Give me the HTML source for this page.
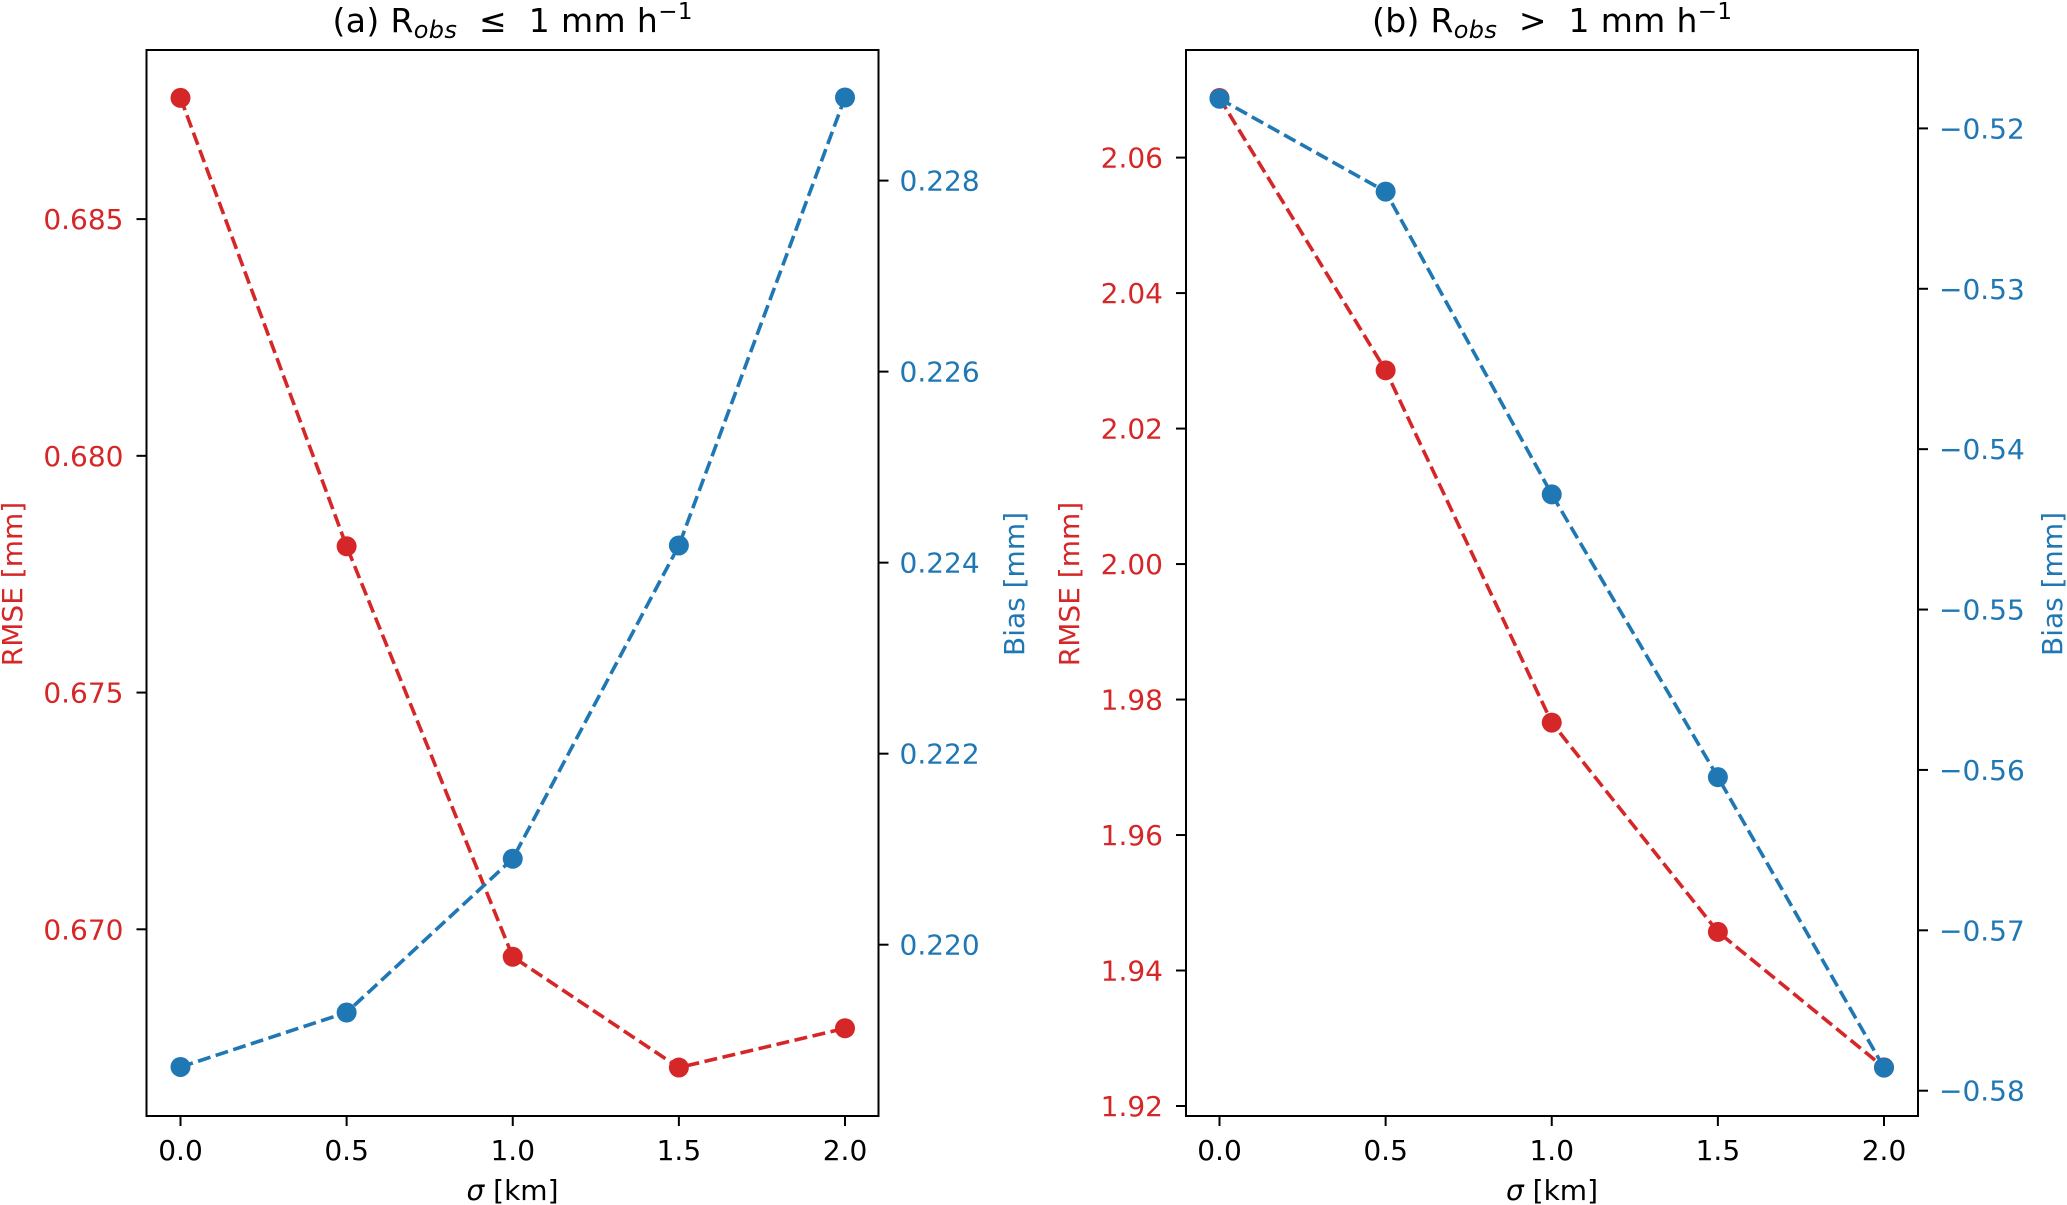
<!DOCTYPE html>
<html><head><meta charset="utf-8"><style>
html,body{margin:0;padding:0;background:#fff;}
svg{display:block;font-family:"DejaVu Sans","Liberation Sans",sans-serif;}
</style></head>
<body>
<svg id="chart" width="2067" height="1205" viewBox="0 0 2067 1205" xmlns="http://www.w3.org/2000/svg">
<rect x="0" y="0" width="2067" height="1205" fill="#fff"/>
<g id="root"></g>
</svg>
<script>
const xCategories = [0.0, 0.5, 1.0, 1.5, 2.0];
const xTickLabels = ["0.0", "0.5", "1.0", "1.5", "2.0"];
const rmseA = [0.68756, 0.67809, 0.66942, 0.66708, 0.66791];
const biasA = [0.21872, 0.21929, 0.22090, 0.22418, 0.22887];
const rmseB = [2.0688, 2.0286, 1.9766, 1.9457, 1.9257];
const biasB = [-0.51815, -0.52394, -0.54282, -0.56045, -0.57856];
const rmseATicks = [0.670, 0.675, 0.680, 0.685];
const rmseATickLabels = ["0.670", "0.675", "0.680", "0.685"];
const biasATicks = [0.220, 0.222, 0.224, 0.226, 0.228];
const biasATickLabels = ["0.220", "0.222", "0.224", "0.226", "0.228"];
const rmseBTicks = [1.92, 1.94, 1.96, 1.98, 2.00, 2.02, 2.04, 2.06];
const rmseBTickLabels = ["1.92", "1.94", "1.96", "1.98", "2.00", "2.02", "2.04", "2.06"];
const biasBTicks = [-0.58, -0.57, -0.56, -0.55, -0.54, -0.53, -0.52];
const biasBTickLabels = ["\u22120.58", "\u22120.57", "\u22120.56", "\u22120.55", "\u22120.54", "\u22120.53", "\u22120.52"];

const NS = "http://www.w3.org/2000/svg";
const root = document.getElementById("root");
const RED = "#d62728", BLUE = "#1f77b4";
function mk(tag, attrs, parent) {
  const e = document.createElementNS(NS, tag);
  for (const k in attrs) e.setAttribute(k, attrs[k]);
  (parent || root).appendChild(e);
  return e;
}
function lin(v0, p0, v1, p1) { return v => p0 + (v - v0) * (p1 - p0) / (v1 - v0); }

const TOP = 50, BOT = 1116;

function panel(cfg) {
  const g = mk("g", {});
  
  
  const X = lin(0, cfg.x0, 2, cfg.x2);
  const YL = lin(cfg.l0v, cfg.l0p, cfg.l1v, cfg.l1p);
  const YR = lin(cfg.r0v, cfg.r0p, cfg.r1v, cfg.r1p);
  function series(vals, Y, color, nm) {
    const pts = xCategories.map((c, i) => X(c).toFixed(1) + "," + Y(vals[i]).toFixed(1)).join(" ");
    const pl = mk("polyline", {points: pts, fill: "none", stroke: color, "stroke-width": 3.6, "stroke-dasharray": "13,5.5"}, g);
    
    
    xCategories.forEach((c, i) => {
      const ci = mk("circle", {cx: X(c), cy: Y(vals[i]), r: 10, fill: color}, g);
      
      
    });
  }
  series(cfg.rmse, YL, RED, 'rmse');
  series(cfg.bias, YR, BLUE, 'bias');
  const fr = mk("rect", {x: cfg.left, y: TOP, width: cfg.right - cfg.left, height: BOT - TOP, fill: "none", stroke: "#000", "stroke-width": 2}, g);
  
  
  xCategories.forEach((c, i) => {
    const x = X(c);
    mk("line", {x1: x, y1: BOT, x2: x, y2: BOT + 10, stroke: "#000", "stroke-width": 2}, g);
    const t = mk("text", {x: x, y: 1160, "text-anchor": "middle", "font-size": 28, fill: "#000"}, g);
    t.textContent = xTickLabels[i];
    
    
  });
  cfg.lt.forEach((v, i) => {
    const y = YL(v);
    mk("line", {x1: cfg.left - 10, y1: y, x2: cfg.left, y2: y, stroke: "#000", "stroke-width": 2}, g);
    const t = mk("text", {x: cfg.left - 23, y: y + 10, "text-anchor": "end", "font-size": 28, fill: RED}, g);
    t.textContent = cfg.ltl[i];
    
    
  });
  cfg.rt.forEach((v, i) => {
    const y = YR(v);
    mk("line", {x1: cfg.right, y1: y, x2: cfg.right + 10, y2: y, stroke: "#000", "stroke-width": 2}, g);
    const t = mk("text", {x: cfg.right + 21, y: y + 10, "text-anchor": "start", "font-size": 28, fill: BLUE}, g);
    t.textContent = cfg.rtl[i];
    
    
  });
  const yl = mk("text", {x: 0, y: 0, transform: "translate(" + cfg.ylx + ",584) rotate(-90)", "text-anchor": "middle", "font-size": 28, fill: RED}, g);
  yl.textContent = "RMSE [mm]";
  
  
  const yr = mk("text", {x: 0, y: 0, transform: "translate(" + cfg.yrx + ",584) rotate(-90)", "text-anchor": "middle", "font-size": 28, fill: BLUE}, g);
  yr.textContent = "Bias [mm]";
  
  
  const xl = mk("text", {x: (cfg.left + cfg.right) / 2, y: 1200, "text-anchor": "middle", "font-size": 28, fill: "#000"}, g);
  xl.innerHTML = '<tspan font-style="italic">σ</tspan> [km]';
  
  
  const ti = mk("text", {x: (cfg.left + cfg.right) / 2, y: 32, "text-anchor": "middle", "font-size": 33, fill: "#000", "textLength": 360, "lengthAdjust": "spacing"}, g);
  ti.innerHTML = cfg.label + ' R<tspan font-size="24" font-style="italic" dy="6">obs</tspan><tspan dy="-6" xml:space="preserve">  ' + cfg.op + '  1 mm h</tspan><tspan font-size="23" dy="-13">−1</tspan>';
  
  
}

panel({name: "panel-a", label: "(a)", op: "≤", left: 146.5, right: 878.5, x0: 180.5, x2: 845,
  l0v: 0.685, l0p: 219.1, l1v: 0.670, l1p: 929.3,
  r0v: 0.228, r0p: 180.6, r1v: 0.220, r1p: 944.7,
  rmse: rmseA, bias: biasA, lt: rmseATicks, ltl: rmseATickLabels, rt: biasATicks, rtl: biasATickLabels,
  ylx: 22, yrx: 1024});
panel({name: "panel-b", label: "(b)", op: "&gt;", left: 1186, right: 1918, x0: 1219.5, x2: 1884,
  l0v: 2.06, l0p: 157.6, l1v: 1.92, l1p: 1106,
  r0v: -0.52, r0p: 128.4, r1v: -0.58, r1p: 1090.7,
  rmse: rmseB, bias: biasB, lt: rmseBTicks, ltl: rmseBTickLabels, rt: biasBTicks, rtl: biasBTickLabels,
  ylx: 1079, yrx: 2062});
</script>
</body></html>
